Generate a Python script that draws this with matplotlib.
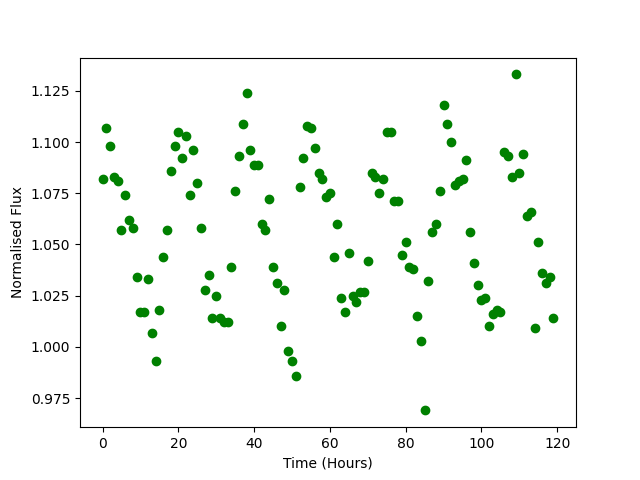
import numpy as np
import matplotlib
matplotlib.use("Agg")
import matplotlib.pyplot as plt

# hourly samples, 0..119 h
time_hours = list(range(120))
flux = [
    1.082, 1.107, 1.098, 1.083, 1.081, 1.057, 1.074, 1.062, 1.058, 1.034,
    1.017, 1.017, 1.033, 1.007, 0.993, 1.018, 1.044, 1.057, 1.086, 1.098,
    1.105, 1.092, 1.103, 1.074, 1.096, 1.080, 1.058, 1.028, 1.035, 1.014,
    1.025, 1.014, 1.012, 1.012, 1.039, 1.076, 1.093, 1.109, 1.124, 1.096,
    1.089, 1.089, 1.060, 1.057, 1.072, 1.039, 1.031, 1.010, 1.028, 0.998,
    0.993, 0.986, 1.078, 1.092, 1.108, 1.107, 1.097, 1.085, 1.082, 1.073,
    1.075, 1.044, 1.060, 1.024, 1.017, 1.046, 1.025, 1.022, 1.027, 1.027,
    1.042, 1.085, 1.083, 1.075, 1.082, 1.105, 1.105, 1.071, 1.071, 1.045,
    1.051, 1.039, 1.038, 1.015, 1.003, 0.969, 1.032, 1.056, 1.060, 1.076,
    1.118, 1.109, 1.100, 1.079, 1.081, 1.082, 1.091, 1.056, 1.041, 1.030,
    1.023, 1.024, 1.010, 1.016, 1.018, 1.017, 1.095, 1.093, 1.083, 1.133,
    1.085, 1.094, 1.064, 1.066, 1.009, 1.051, 1.036, 1.031, 1.034, 1.014,
]

fig = plt.figure(figsize=(6.4, 4.8), dpi=100)
plt.plot(time_hours, flux, 'o', color='green')
plt.xlabel("Time (Hours)")
plt.ylabel("Normalised Flux")
plt.savefig("out.png")
